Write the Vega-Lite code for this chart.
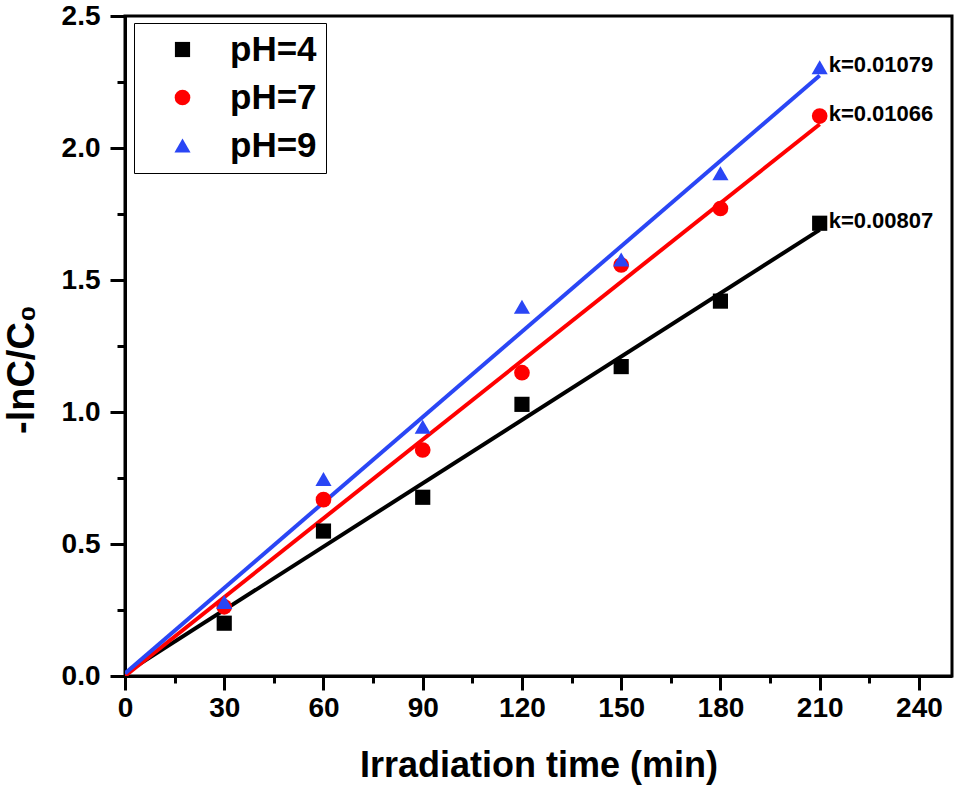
{
  "$schema": "https://vega.github.io/schema/vega-lite/v6.json",
  "width": 827,
  "height": 660,
  "autosize": "none",
  "padding": {"left": 125, "top": 16, "right": 6, "bottom": 118},
  "background": "white",
  "config": {
    "view": {"stroke": "black", "strokeWidth": 3},
    "font": "Liberation Sans",
    "axis": {
      "domainColor": "black",
      "domainWidth": 3,
      "tickColor": "black",
      "tickWidth": 3,
      "grid": false,
      "labelFont": "Liberation Sans",
      "labelFontWeight": "bold",
      "labelFontSize": 28,
      "labelColor": "black",
      "titleFont": "Liberation Sans",
      "titleFontWeight": "bold",
      "titleColor": "black"
    },
    "legend": {
      "orient": "none",
      "legendX": 9,
      "legendY": 7,
      "fillColor": "white",
      "strokeColor": "black",
      "padding": 9,
      "symbolOffset": 22,
      "symbolStrokeWidth": 0,
      "labelOffset": 30,
      "labelFont": "Liberation Sans",
      "labelFontWeight": "bold",
      "labelFontSize": 35,
      "labelColor": "black",
      "rowPadding": 12
    }
  },
  "datasets": {
    "points": [
      {"series": "pH=4", "time": 30, "value": 0.2},
      {"series": "pH=4", "time": 60, "value": 0.549},
      {"series": "pH=4", "time": 90, "value": 0.677},
      {"series": "pH=4", "time": 120, "value": 1.029},
      {"series": "pH=4", "time": 150, "value": 1.172},
      {"series": "pH=4", "time": 180, "value": 1.42},
      {"series": "pH=4", "time": 210, "value": 1.715},
      {"series": "pH=7", "time": 30, "value": 0.262},
      {"series": "pH=7", "time": 60, "value": 0.668},
      {"series": "pH=7", "time": 90, "value": 0.856},
      {"series": "pH=7", "time": 120, "value": 1.149},
      {"series": "pH=7", "time": 150, "value": 1.557},
      {"series": "pH=7", "time": 180, "value": 1.771},
      {"series": "pH=7", "time": 210, "value": 2.121},
      {"series": "pH=9", "time": 30, "value": 0.28},
      {"series": "pH=9", "time": 60, "value": 0.746},
      {"series": "pH=9", "time": 90, "value": 0.944},
      {"series": "pH=9", "time": 120, "value": 1.399},
      {"series": "pH=9", "time": 150, "value": 1.578},
      {"series": "pH=9", "time": 180, "value": 1.904},
      {"series": "pH=9", "time": 210, "value": 2.306}
    ],
    "fits": [
      {"series": "pH=4", "time": 0, "value": 0.01},
      {"series": "pH=4", "time": 210, "value": 1.69},
      {"series": "pH=7", "time": 0, "value": 0.0},
      {"series": "pH=7", "time": 210, "value": 2.09},
      {"series": "pH=9", "time": 0, "value": 0.01},
      {"series": "pH=9", "time": 210, "value": 2.275}
    ],
    "labels": [
      {"series": "pH=4", "time": 210, "value": 1.715, "label": "k=0.00807"},
      {"series": "pH=7", "time": 210, "value": 2.121, "label": "k=0.01066"},
      {"series": "pH=9", "time": 210, "value": 2.306, "label": "k=0.01079"}
    ]
  },
  "layer": [
    {
      "data": {"name": "fits"},
      "mark": {"type": "line", "strokeWidth": 4, "clip": true},
      "encoding": {
        "x": {
          "field": "time",
          "type": "quantitative",
          "scale": {"domain": [0, 250], "nice": false, "zero": false},
          "axis": {
            "title": "Irradiation time (min)",
            "titleFontSize": 36,
            "titlePadding": 26,
            "values": [0, 15, 30, 45, 60, 75, 90, 105, 120, 135, 150, 165, 180, 195, 210, 225, 240],
            "labelExpr": "datum.value % 30 === 0 ? datum.label : ''",
            "labelPadding": 4,
            "labelFlush": false,
            "labelOverlap": false,
            "tickSize": {"condition": {"test": "datum.value % 30 === 0", "value": 14}, "value": 7}
          }
        },
        "y": {
          "field": "value",
          "type": "quantitative",
          "scale": {"domain": [0, 2.5], "nice": false},
          "axis": {
            "title": "-lnC/C₀",
            "titleFontSize": 38,
            "titleAngle": 270,
            "titleX": -103,
            "titleY": 353,
            "titleAlign": "center",
            "titleBaseline": "middle",
            "values": [0, 0.25, 0.5, 0.75, 1, 1.25, 1.5, 1.75, 2, 2.25, 2.5],
            "format": ".1f",
            "labelExpr": "round(datum.value * 4) % 2 === 0 ? datum.label : ''",
            "labelPadding": 10,
            "labelFlush": false,
            "labelOverlap": false,
            "tickSize": {"condition": {"test": "round(datum.value * 4) % 2 === 0", "value": 15}, "value": 8}
          }
        },
        "color": {
          "field": "series",
          "type": "nominal",
          "scale": {"domain": ["pH=4", "pH=7", "pH=9"], "range": ["#000000", "#ff0000", "#2a46f5"]},
          "legend": {"title": null}
        }
      }
    },
    {
      "data": {"name": "points"},
      "mark": {"type": "point", "filled": true, "opacity": 1},
      "encoding": {
        "x": {"field": "time", "type": "quantitative"},
        "y": {"field": "value", "type": "quantitative"},
        "color": {"field": "series", "type": "nominal", "legend": {"title": null}},
        "shape": {
          "field": "series",
          "type": "nominal",
          "scale": {"domain": ["pH=4", "pH=7", "pH=9"], "range": ["square", "circle", "triangle-up"]},
          "legend": {"title": null}
        },
        "size": {
          "field": "series",
          "type": "nominal",
          "scale": {"domain": ["pH=4", "pH=7", "pH=9"], "range": [230, 260, 430]},
          "legend": {"title": null}
        }
      }
    },
    {
      "data": {"name": "labels"},
      "mark": {"type": "text", "align": "left", "baseline": "middle", "dx": 9, "dy": -2, "font": "Liberation Sans", "fontWeight": "bold", "fontSize": 22, "color": "black"},
      "encoding": {
        "x": {"field": "time", "type": "quantitative"},
        "y": {"field": "value", "type": "quantitative"},
        "text": {"field": "label"}
      }
    }
  ]
}
